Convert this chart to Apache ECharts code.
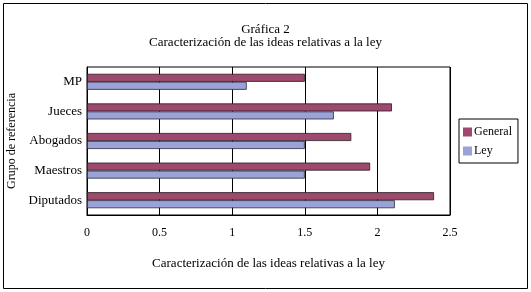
<!DOCTYPE html>
<html>
<head>
<meta charset="utf-8">
<script src="https://cdn.jsdelivr.net/npm/echarts@6/dist/echarts.min.js"></script>
<style>
html,body{margin:0;padding:0;background:#fff;}
#c{width:531px;height:292px;}
</style>
</head>
<body>
<div id="c"></div>
<script>
const categories = ['MP', 'Jueces', 'Abogados', 'Maestros', 'Diputados'];
const generalValues = [1.5, 2.1, 1.82, 1.95, 2.39];
const leyValues = [1.1, 1.7, 1.5, 1.5, 2.12];
const seriesNames = ['General', 'Ley'];
const titleLines = ['Gráfica 2', 'Caracterización de las ideas relativas a la ley'];
const xAxisName = 'Caracterización de las ideas relativas a la ley';
const yAxisName = 'Grupo de referencia';

const FONT = '"Liberation Serif", "DejaVu Serif", serif';
const chart = echarts.init(document.getElementById('c'), null, {renderer: 'canvas'});
chart.setOption({
  backgroundColor: '#fff',
  animation: false,
  textStyle: {fontFamily: FONT, color: '#000'},
  graphic: [{
    type: 'rect', shape: {x: 3.5, y: 3.5, width: 524, height: 285},
    style: {fill: 'none', stroke: '#000', lineWidth: 1}, silent: true
  }],
  title: {
    text: titleLines.join('\n'),
    left: 'center', top: 18,
    textStyle: {fontFamily: FONT, fontSize: 13, fontWeight: 'normal', color: '#000', lineHeight: 13}
  },
  legend: {
    data: seriesNames,
    orient: 'vertical',
    left: 459, top: 119,
    itemWidth: 9, itemHeight: 9, itemGap: 7,
    padding: [7, 6, 6, 4],
    borderColor: '#000', borderWidth: 1,
    icon: 'rect',
    itemStyle: {borderWidth: 0, borderColor: 'transparent'},
    textStyle: {fontFamily: FONT, fontSize: 12, color: '#000', padding: [0, 0, 0, -3]}
  },
  grid: {left: 87, right: 81, top: 67, bottom: 77, containLabel: false, outerBoundsMode: 'none',
         show: true, borderColor: '#000', borderWidth: 1},
  xAxis: {
    type: 'value', min: 0, max: 2.5, interval: 0.5,
    name: xAxisName, nameLocation: 'middle', nameGap: 42,
    nameTextStyle: {fontFamily: FONT, fontSize: 13, color: '#000'},
    axisLine: {show: true, lineStyle: {color: '#000'}},
    axisTick: {show: false},
    axisLabel: {fontFamily: FONT, fontSize: 12, color: '#000', margin: 12},
    splitLine: {show: true, lineStyle: {color: '#000', width: 1}}
  },
  yAxis: {
    type: 'category', data: categories, inverse: true,
    name: yAxisName, nameLocation: 'middle', nameGap: 66, nameRotate: 90,
    nameTextStyle: {fontFamily: FONT, fontSize: 12, color: '#000'},
    axisLine: {show: true, lineStyle: {color: '#000'}},
    axisTick: {show: false},
    axisLabel: {fontFamily: FONT, fontSize: 13, color: '#000', margin: 5}
  },
  series: [
    {name: seriesNames[0], type: 'bar', data: generalValues, barWidth: 8, barGap: '0%',
     itemStyle: {color: '#9E4A6E', borderColor: '#2a1a22', borderWidth: 0.8}},
    {name: seriesNames[1], type: 'bar', data: leyValues, barWidth: 8, barGap: '0%',
     itemStyle: {color: '#9AA2D8', borderColor: '#2a2a3a', borderWidth: 0.8}}
  ]
});
</script>
</body>
</html>
